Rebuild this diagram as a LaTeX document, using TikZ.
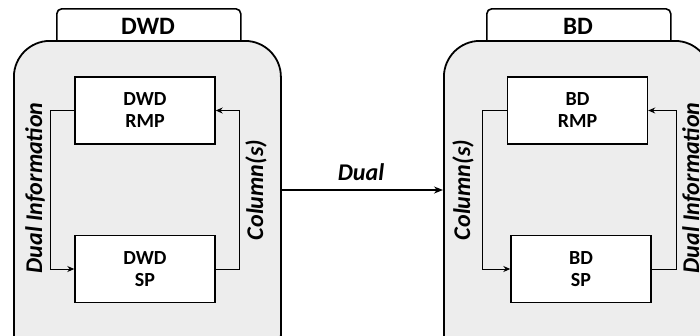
\documentclass[tikz,border=0pt]{standalone}
\usepackage{fontspec}
\setmainfont{Carlito}
\usetikzlibrary{arrows.meta}
\definecolor{contgray}{HTML}{EDEDED}
\begin{document}
\begin{tikzpicture}[x=1pt,y=-1pt,
  cont/.style={draw=black,line width=1.8pt,fill=contgray,rounded corners=36pt,minimum width=267pt,minimum height=330pt,inner sep=0pt},
  tabbox/.style={draw=black,line width=1.6pt,fill=white,rounded corners=5pt,minimum width=184pt,minimum height=40pt,inner sep=0pt},
  tabtext/.style={font=\bfseries\fontsize{25}{27}\selectfont,inner sep=0pt},
  inbox/.style={draw=black,line width=1.4pt,fill=white,minimum width=140pt,minimum height=67pt,inner sep=0pt,align=center,font=\bfseries\fontsize{20}{22}\selectfont},
  loop/.style={draw=black,line width=1pt,-{Stealth[length=7pt,width=6pt]}},
  lab/.style={font=\bfseries\itshape\fontsize{24}{26}\selectfont,rotate=90,inner sep=0pt},
  big/.style={draw=black,line width=1.8pt,-{Stealth[length=9pt,width=7pt]}}]
\useasboundingbox (0,0) rectangle (700,335);
\clip (0,0) rectangle (700,335);
% left
\node[tabbox,anchor=north west] (ltab) at (56,8) {};
\node[cont,anchor=north west] (L) at (13,40) {};
\node[tabtext] (ltabt) at (148,26) {DWD};
\node[inbox] (lrmp) at (145,110.5) {DWD\\RMP};
\node[inbox] (lsp) at (145,269) {DWD\\SP};
\draw[loop] (lrmp.west) -- ++(-24,0) |- (lsp.west);
\draw[loop] (lsp.east) -- ++(24,0) |- (lrmp.east);
\node[lab] (ldi) at (35,188) {Dual Information};
\node[lab] (lcol) at (256,190) {Column(s)};
% right
\node[tabbox,anchor=north west] (rtab) at (486,8) {};
\node[cont,anchor=north west] (R) at (443,40) {};
\node[tabtext] (rtabt) at (578,26) {BD};
\node[inbox] (rrmp) at (577.5,110.5) {BD\\RMP};
\node[inbox] (rsp) at (581,269) {BD\\SP};
\draw[loop] (rrmp.west) -- ++(-24,0) |- (rsp.west);
\draw[loop] (rsp.east) -- ++(25,0) |- (rrmp.east);
\node[lab] (rcol) at (463,190) {Column(s)};
\node[lab] (rdi) at (692,188) {Dual Information};
% middle
\coordinate (m) at (360,190);
\draw[big] (m -| L.east) -- (m -| R.west);
\node[font=\bfseries\itshape\fontsize{24}{26}\selectfont,inner sep=0pt] (dual) at (361,172) {Dual};
\end{tikzpicture}
\end{document}
